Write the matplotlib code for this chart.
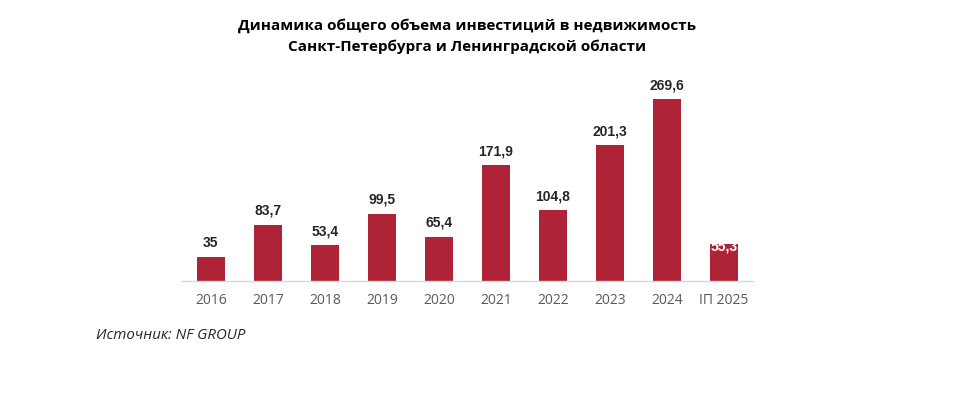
import matplotlib.pyplot as plt

plt.rcParams['font.family'] = ['Open Sans', 'DejaVu Sans']

years = ["2016", "2017", "2018", "2019", "2020", "2021", "2022", "2023", "2024", "IП 2025"]
values = [35, 83.7, 53.4, 99.5, 65.4, 171.9, 104.8, 201.3, 269.6, 55.3]
labels = ["35", "83,7", "53,4", "99,5", "65,4", "171,9", "104,8", "201,3", "269,6", "55,3"]

bar_color = "#AE2335"

fig = plt.figure(figsize=(9.55, 3.93), dpi=100)
ax = fig.add_axes([0.191, 0.285, 0.597, 0.515])

x = list(range(len(years)))
ax.bar(x, values, width=0.5, color=bar_color)

for i, (v, lab) in enumerate(zip(values, labels)):
    if i == len(values) - 1:
        # last label sits inside the bar in white
        ax.annotate(lab, (i, v), xytext=(0, 3), textcoords="offset points",
                    ha="center", va="top", fontsize=10, fontweight="bold",
                    color="white", family="Liberation Sans")
    else:
        ax.annotate(lab, (i, v), xytext=(0, 5), textcoords="offset points",
                    ha="center", va="bottom", fontsize=10, fontweight="bold",
                    color="#262626", family="Liberation Sans")

ax.set_xlim(-0.5, len(years) - 0.5)
ax.set_ylim(0, 300)
ax.set_xticks(x)
ax.set_xticklabels(years, fontsize=10, color="#595959")
ax.tick_params(axis="x", length=0, pad=9)
ax.set_yticks([])
for s in ["top", "right", "left"]:
    ax.spines[s].set_visible(False)
ax.spines["bottom"].set_color("#D9D9D9")
ax.spines["bottom"].set_linewidth(1)

fig.text(0.489, 0.908, "Динамика общего объема инвестиций в недвижимость\nСанкт-Петербурга и Ленинградской области",
         ha="center", va="center", fontsize=11, fontweight="bold", color="black", linespacing=1.5)

fig.text(0.101, 0.147, "Источник: NF GROUP", ha="left", va="center",
         fontsize=10.8, style="italic", color="#262626")

fig.savefig("out.png", dpi=100)
